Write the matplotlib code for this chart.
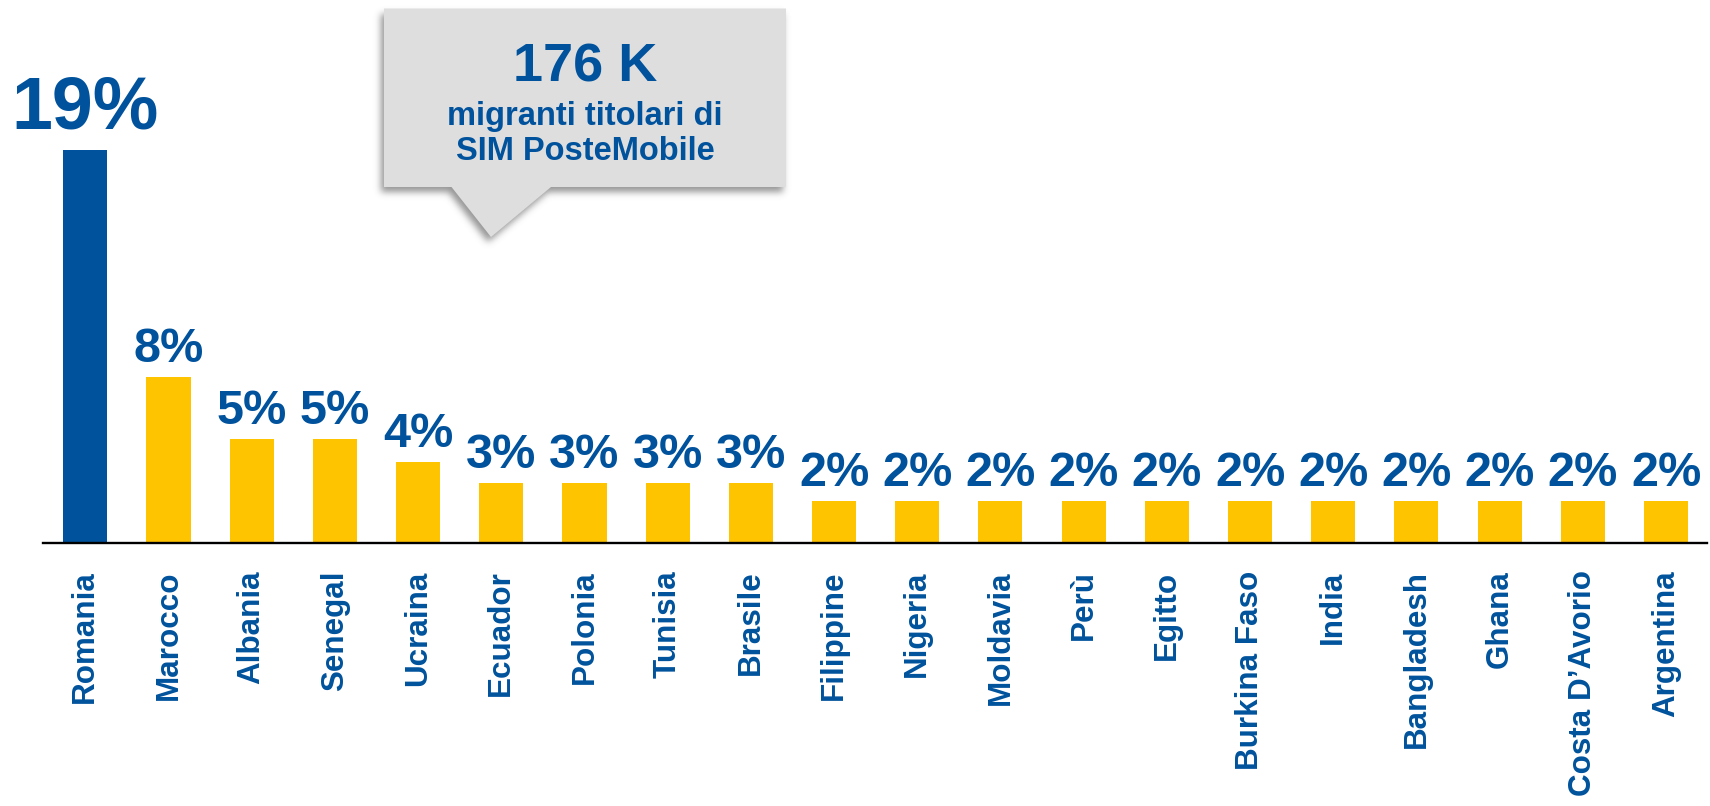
import numpy as np
import matplotlib
matplotlib.use("Agg")
import matplotlib.pyplot as plt
from matplotlib.patches import Polygon
from matplotlib.path import Path

# ---------------- data ----------------
countries = ["Romania", "Marocco", "Albania", "Senegal", "Ucraina", "Ecuador",
             "Polonia", "Tunisia", "Brasile", "Filippine", "Nigeria", "Moldavia",
             "Perù", "Egitto", "Burkina Faso", "India", "Bangladesh", "Ghana",
             "Costa D\u2019Avorio", "Argentina"]
shares = [19, 8, 5, 5, 3.9, 2.9, 2.9, 2.9, 2.9, 2, 2, 2, 2, 2, 2, 2, 2, 2, 2, 2]
callout_title = "176 K"
callout_lines = ["migranti titolari di", "SIM PosteMobile"]

# ---------------- style ----------------
BLUE = "#00529C"
YELLOW = "#FFC400"
BOX = "#DEDEDE"
plt.rcParams['font.family'] = ['Liberation Sans', 'DejaVu Sans']

W, H, DPI = 1710, 806, 100
fig = plt.figure(figsize=(W / DPI, H / DPI), dpi=DPI)

# axes geometry in pixels
ax_left, ax_right = 43, 1707
base_y = 542.7          # baseline, px from top
px_per_unit = 20.68
ax = fig.add_axes([ax_left / W, 1 - base_y / H, (ax_right - ax_left) / W, base_y / H])
ax.set_facecolor("none")

n = len(countries)
x = np.arange(n)
colors = [BLUE] + [YELLOW] * (n - 1)
ax.bar(x, shares, width=0.53, color=colors, zorder=2)

spacing = 83.2
ax.set_xlim(-(85.3 - ax_left) / spacing, (n - 1) + (ax_right - 1666) / spacing)
ax.set_ylim(0, base_y / px_per_unit)

for s in ["top", "right", "left"]:
    ax.spines[s].set_visible(False)
ax.spines["bottom"].set_linewidth(1.7)
ax.spines["bottom"].set_color("black")
ax.set_yticks([])
ax.set_xticks(x)
ax.set_xticklabels(countries, rotation=90, fontsize=22.6, fontweight='bold', color=BLUE)
ax.tick_params(axis='x', length=0, pad=20)

for i, v in enumerate(shares):
    big = (i == 0)
    ax.annotate(f"{v:.0f}%", (i, v), xytext=(0, 15.5 if big else 10.8),
                textcoords="offset points", ha="center", va="baseline",
                fontsize=53 if big else 35, fontweight="bold", color=BLUE, zorder=3)

# ---------------- callout ----------------
pts_px = [(384, 8.5), (786, 8.5), (786, 187), (551, 187), (491, 237),
          (451.5, 187), (384, 187)]

# blurred shadow as an image
sh_dx, sh_dy = -3, 5
sh_path = Path([(px + sh_dx, py + sh_dy) for px, py in pts_px] + [pts_px[0]], closed=True)
yy, xx = np.mgrid[0:H, 0:W]
inside = sh_path.contains_points(np.column_stack([xx.ravel() + 0.5, yy.ravel() + 0.5]))
mask = inside.reshape(H, W).astype(float)
sigma = 3.5
k = np.arange(-12, 13)
kern = np.exp(-k ** 2 / (2 * sigma ** 2))
kern /= kern.sum()
mask = np.apply_along_axis(lambda r: np.convolve(r, kern, mode="same"), 1, mask)
mask = np.apply_along_axis(lambda c: np.convolve(c, kern, mode="same"), 0, mask)
rgba = np.zeros((H, W, 4))
rgba[..., :3] = 0.45
rgba[..., 3] = mask * 0.75
fig.figimage(rgba, xo=0, yo=0, origin="upper", zorder=0.5)

poly = Polygon([(px / W, 1 - py / H) for px, py in pts_px], closed=True,
               transform=fig.transFigure, facecolor=BOX, edgecolor="none", zorder=1)
fig.patches.append(poly)

cx = 585 / W
fig.text(cx, 1 - 81.7 / H, callout_title, ha="center", va="baseline",
         fontsize=39, fontweight="bold", color=BLUE, zorder=2)
fig.text(cx, 1 - 125 / H, callout_lines[0], ha="center", va="baseline",
         fontsize=23.5, fontweight="bold", color=BLUE, zorder=2)
fig.text(cx, 1 - 160 / H, callout_lines[1], ha="center", va="baseline",
         fontsize=23.5, fontweight="bold", color=BLUE, zorder=2)

fig.savefig("out.png", dpi=DPI)
